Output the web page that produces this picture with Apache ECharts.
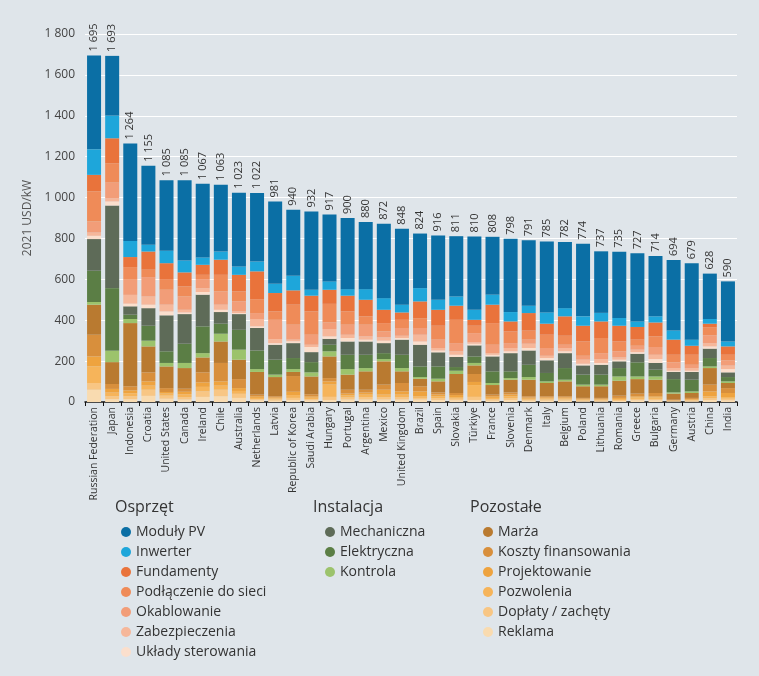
<!DOCTYPE html>
<html>
<head>
<meta charset="utf-8">
<script src="https://cdn.jsdelivr.net/npm/echarts@6/dist/echarts.min.js"></script>
<style>
html,body{margin:0;padding:0;background:#dfe5ea;}
#c{width:759px;height:676px;}
</style>
</head>
<body>
<div id="c"></div>
<script>
const countries = ["Russian Federation","Japan","Indonesia","Croatia","United States","Canada","Ireland","Chile","Australia","Netherlands","Latvia","Republic of Korea","Saudi Arabia","Hungary","Portugal","Argentina","Mexico","United Kingdom","Brazil","Spain","Slovakia","Türkiye","France","Slovenia","Denmark","Italy","Belgium","Poland","Lithuania","Romania","Greece","Bulgaria","Germany","Austria","China","India"];
const totals = [1695,1693,1264,1155,1085,1085,1067,1063,1023,1022,981,940,932,917,900,880,872,848,824,916,811,810,808,798,791,785,782,774,737,735,727,714,694,679,628,590];

const reklama = [60,14,14,30,16,12,25,28,20,8,6,10,8,10,12,12,12,12,12,10,8,10,6,10,6,6,6,4,4,5,8,8,3,4,10,8];
const doplaty = [33,14,14,30,15,12,27,32,20,6,6,10,6,15,10,12,12,12,8,9,8,15,7,9,5,6,6,4,4,5,7,7,2,4,8,8];
const pozwolenia = [81,18,15,20,10,14,22,20,14,6,6,14,7,60,10,12,12,12,8,9,8,58,7,9,5,6,6,4,4,5,7,7,2,3,10,8];
const projektowanie = [49,18,14,21,8,12,22,21,14,8,5,16,7,16,9,10,24,16,24,9,10,15,8,9,6,5,5,4,4,5,6,6,2,4,24,20];
const koszty = [106,24,20,44,19,15,49,90,44,8,5,77,10,16,19,14,25,41,25,10,10,39,8,10,6,5,5,4,4,11,13,16,2,5,33,24];
const marza = [147,107,309,127,106,101,73,105,95,111,94,20,87,106,74,90,114,57,37,54,93,42,47,62,81,65,73,57,57,73,71,65,30,24,81,25];
const kontrola = [13,56,20,28,17,25,21,38,49,14,12,14,20,25,27,16,11,16,8,13,16,12,10,8,13,8,8,8,8,21,13,16,6,8,8,8];
const elektryczna = [153,306,21,73,57,94,131,49,97,91,73,54,50,32,70,65,29,65,52,60,18,32,57,33,60,41,57,49,49,41,69,33,65,57,41,21];
const mechaniczna = [155,404,41,86,176,145,155,57,77,110,73,73,49,29,65,65,49,74,106,69,49,54,73,89,70,62,73,45,48,33,42,33,35,38,46,23];
const uklady = [16,20,13,17,19,8,13,11,5,8,8,9,25,12,17,9,12,8,16,9,11,8,8,9,12,11,9,8,9,8,8,19,6,6,11,16];
const zabezpieczenia = [16,16,43,40,33,13,19,25,8,36,20,8,11,36,16,16,16,11,33,12,17,7,8,16,21,11,16,20,19,11,12,21,13,13,16,17];
const okablowanie = [54,76,74,95,73,65,44,65,49,29,94,73,49,32,49,57,29,38,33,41,40,45,41,24,20,38,16,19,29,30,19,38,28,16,38,26];
const podlaczenie = [147,95,62,36,49,49,21,81,49,68,41,98,114,91,65,41,41,40,48,68,114,36,106,57,44,65,44,70,74,48,30,52,37,49,40,27];
const fundamenty = [81,122,49,89,81,69,49,74,81,136,90,70,77,69,77,81,65,36,82,78,69,29,90,49,86,54,95,77,81,77,62,68,74,44,17,41];
const inwerter = [125,111,79,33,61,58,36,40,41,48,45,71,29,41,32,52,57,38,65,49,45,49,49,46,36,55,40,46,42,38,27,30,45,30,23,24];
const moduly = [459,292,476,386,345,393,360,327,360,335,403,323,383,327,348,328,364,372,267,315,295,359,283,358,320,347,323,355,301,324,333,295,344,374,222,294];

const groupOsprzet = ["Moduły PV","Inwerter","Fundamenty","Podłączenie do sieci","Okablowanie","Zabezpieczenia","Układy sterowania"];
const groupInstalacja = ["Mechaniczna","Elektryczna","Kontrola"];
const groupPozostale = ["Marża","Koszty finansowania","Projektowanie","Pozwolenia","Dopłaty / zachęty","Reklama"];

// stacking order bottom -> top
const stackDefs = [
  ["Reklama", reklama, "#f9dbb0"],
  ["Dopłaty / zachęty", doplaty, "#f8c684"],
  ["Pozwolenia", pozwolenia, "#f6b45a"],
  ["Projektowanie", projektowanie, "#eea33f"],
  ["Koszty finansowania", koszty, "#d88f3c"],
  ["Marża", marza, "#b97a30"],
  ["Kontrola", kontrola, "#9cc36c"],
  ["Elektryczna", elektryczna, "#5b7e45"],
  ["Mechaniczna", mechaniczna, "#5e6b58"],
  ["Układy sterowania", uklady, "#fbdfcd"],
  ["Zabezpieczenia", zabezpieczenia, "#f6b79a"],
  ["Okablowanie", okablowanie, "#f29d78"],
  ["Podłączenie do sieci", podlaczenie, "#ef8b58"],
  ["Fundamenty", fundamenty, "#e9733b"],
  ["Inwerter", inwerter, "#1ea6da"],
  ["Moduły PV", moduly, "#0b6fa5"]
];

function fmt(n){ n = Math.round(n); return n >= 1000 ? Math.floor(n/1000) + " " + String(n%1000).padStart(3,"0") : String(n); }

const FONT = "Open Sans";
const series = stackDefs.map(function(d, i){
  const s = {
    name: d[0], type: "bar", stack: "total", data: d[1], barWidth: 14,
    itemStyle: { color: d[2] },
    emphasis: { disabled: true }
  };
  if (i === stackDefs.length - 1) {
    s.label = {
      show: true, position: "top", rotate: 90, align: "left", verticalAlign: "middle",
      distance: 4, fontSize: 11, color: "#333", fontFamily: FONT,
      formatter: function(p){ return fmt(totals[p.dataIndex]); }
    };
  }
  return s;
});

function legendCfg(data, left){
  return {
    data: data, orient: "vertical", left: left, top: 524,
    icon: "circle", itemWidth: 10, itemHeight: 10, itemGap: 4, padding: 0,
    selectedMode: false,
    textStyle: { fontSize: 14, color: "#333", fontFamily: FONT, lineHeight: 16 }
  };
}

const chart = echarts.init(document.getElementById("c"), null, { renderer: "canvas" });
chart.setOption({
  backgroundColor: "#dfe5ea",
  animation: false,
  textStyle: { fontFamily: FONT },
  grid: { left: 85, right: 22, top: 34, bottom: 274, containLabel: false },
  xAxis: {
    type: "category", data: countries,
    axisLine: { lineStyle: { color: "#111", width: 1.5 } },
    axisTick: { show: true, length: 4, lineStyle: { color: "#111" } },
    axisLabel: { rotate: 90, fontSize: 10.5, color: "#333", margin: 5, fontFamily: FONT, interval: 0 }
  },
  yAxis: {
    type: "value", min: 0, max: 1800, interval: 200,
    name: "2021 USD/kW", nameLocation: "middle", nameGap: 48,
    nameTextStyle: { fontSize: 12, color: "#555", fontFamily: FONT },
    axisLine: { show: false }, axisTick: { show: false },
    axisLabel: { fontSize: 12, color: "#444", margin: 10, fontFamily: FONT, formatter: function(v){ return fmt(v); } },
    splitLine: { lineStyle: { color: "#ffffff", width: 1 } }
  },
  legend: [
    legendCfg(groupOsprzet, 121),
    legendCfg(groupInstalacja, 325),
    legendCfg(groupPozostale, 483)
  ],
  graphic: [
    { type: "text", left: 115, top: 499, style: { text: "Osprzęt", fontSize: 16, fill: "#333", fontFamily: FONT } },
    { type: "text", left: 313, top: 499, style: { text: "Instalacja", fontSize: 16, fill: "#333", fontFamily: FONT } },
    { type: "text", left: 470, top: 499, style: { text: "Pozostałe", fontSize: 16, fill: "#333", fontFamily: FONT } }
  ],
  series: series
});
</script>
</body>
</html>
